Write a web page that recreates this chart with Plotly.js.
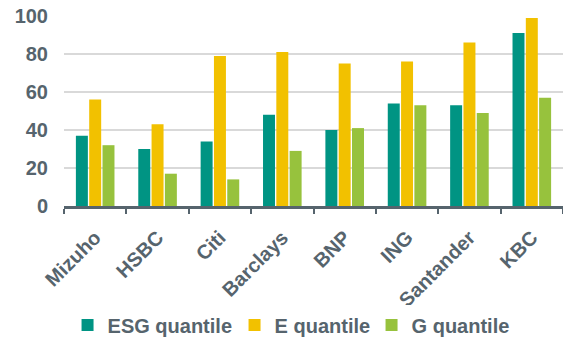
<!DOCTYPE html>
<html><head><meta charset="utf-8">
<script src="https://cdn.plot.ly/plotly-3.0.1.min.js"></script>
<style>html,body{margin:0;padding:0;background:#fff}#chart{width:563px;height:338px}</style>
</head><body><div id="chart"></div>
<script>
const banks = ["Mizuho","HSBC","Citi","Barclays","BNP","ING","Santander","KBC"];
const esgQuantile = [37,30,34,48,40,54,53,91];
const eQuantile = [56,43,79,81,75,76,86,99];
const gQuantile = [32,17,14,29,41,53,49,57];
const yTicks = [0,20,40,60,80,100];

const txt = "#56646d";
const fnt = {family:"Liberation Sans, Arial, sans-serif", size:20, color:txt, weight:700};
const traces = [
  {type:"bar", name:"ESG quantile", x:banks, y:esgQuantile, marker:{color:"#009483"}, legendwidth:122},
  {type:"bar", name:"E quantile", x:banks, y:eQuantile, marker:{color:"#f2c100"}, legendwidth:92},
  {type:"bar", name:"G quantile", x:banks, y:gQuantile, marker:{color:"#97c23d"}}
];
const layout = {
  width:563, height:338,
  margin:{l:64, r:0, t:16, b:132, autoexpand:false},
  paper_bgcolor:"#fff", plot_bgcolor:"#fff",
  barmode:"group", bargap:0.36, bargroupgap:0.1,
  font:fnt,
  showlegend:true,
  legend:{orientation:"h", x:0.455, xanchor:"center", y:-0.626, yanchor:"middle", font:fnt, itemwidth:30, traceorder:"normal"},
  xaxis:{tickangle:-45, tickfont:fnt, showline:true, linecolor:"#56646d", linewidth:3, automargin:false,
         ticks:"outside", tickcolor:"#56646d", ticklen:5, tickwidth:2, tickson:"boundaries", showgrid:false,
         ticklabelstandoff:9},
  yaxis:{range:[0,100], tickvals:yTicks, tickfont:fnt, showgrid:true, gridcolor:"#d9d9d9", gridwidth:1.5, automargin:false,
         zeroline:false, showline:false, ticks:"", ticklabelstandoff:15}
};
Plotly.newPlot("chart", traces, layout, {displayModeBar:false, staticPlot:true});
</script></body></html>
